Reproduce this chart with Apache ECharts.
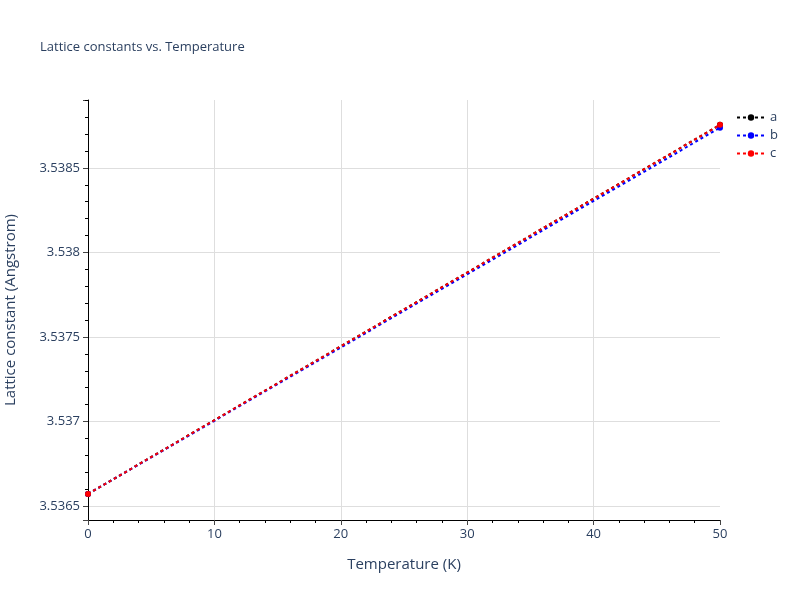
<!DOCTYPE html>
<html>
<head>
<meta charset="utf-8">
<script src="https://cdn.jsdelivr.net/npm/echarts@6/dist/echarts.min.js"></script>
<style>
  html, body { margin: 0; padding: 0; background: #fff; }
  #main { width: 800px; height: 600px; }
</style>
</head>
<body>
<div id="main"></div>
<script>
var temps = [0, 50];
var latA = [3.536571, 3.538755];
var latB = [3.536571, 3.538738];
var latC = [3.536571, 3.538755];
var seriesNames = ['a', 'b', 'c'];
var seriesColors = ['#000000', '#0000ff', '#ff0000'];

var font = '"Open Sans", verdana, arial, sans-serif';
var txt = '#2a3f5f';

function pairs(ys) {
  return temps.map(function (t, i) { return [t, ys[i]]; });
}

var chart = echarts.init(document.getElementById('main'));
chart.setOption({
  animation: false,
  backgroundColor: '#fff',
  title: {
    text: 'Lattice constants vs. Temperature',
    left: 35,
    top: 36,
    textStyle: { fontFamily: font, fontSize: 13, fontWeight: 'normal', color: txt }
  },
  legend: {
    orient: 'vertical',
    left: 731,
    top: 106,
    itemWidth: 28,
    itemHeight: 8,
    itemGap: 5,
    textStyle: { fontFamily: font, fontSize: 13, color: txt },
    data: seriesNames
  },
  grid: { left: 88, right: 80, top: 100, bottom: 80, outerBoundsMode: 'none' },
  xAxis: {
    type: 'value',
    min: 0,
    max: 50,
    interval: 10,
    name: 'Temperature (K)',
    nameLocation: 'middle',
    nameGap: 37,
    nameTextStyle: { fontFamily: font, fontSize: 15, color: txt },
    axisLine: { lineStyle: { color: '#000', width: 1 } },
    axisTick: { show: true, length: 5, lineStyle: { color: '#444' } },
    minorTick: { show: true, splitNumber: 5, length: 3, lineStyle: { color: '#000' } },
    axisLabel: { fontFamily: font, fontSize: 13, color: txt, margin: 8 },
    splitLine: { show: true, showMinLine: false, showMaxLine: false, lineStyle: { color: '#dedede' } }
  },
  yAxis: {
    type: 'value',
    min: 3.536417,
    max: 3.538902,
    splitNumber: 5,
    name: 'Lattice constant (Angstrom)',
    nameLocation: 'middle',
    nameGap: 70,
    nameTextStyle: { fontFamily: font, fontSize: 15, color: txt },
    axisLine: { show: true, lineStyle: { color: '#000', width: 1 } },
    axisTick: { show: true, length: 5, lineStyle: { color: '#444' } },
    minorTick: { show: true, splitNumber: 5, length: 3, lineStyle: { color: '#000' } },
    axisLabel: {
      fontFamily: font, fontSize: 13, color: txt, margin: 8,
      showMinLabel: false, showMaxLabel: false,
      formatter: function (v) { return String(+v.toFixed(4)); }
    },
    splitLine: { show: true, showMinLine: false, showMaxLine: false, lineStyle: { color: '#dedede' } }
  },
  series: [latA, latB, latC].map(function (ys, i) {
    return {
      name: seriesNames[i],
      type: 'line',
      data: pairs(ys),
      symbol: 'circle',
      symbolSize: 6,
      showSymbol: true,
      itemStyle: { color: seriesColors[i] },
      lineStyle: { color: seriesColors[i], width: 2, type: [3, 3] },
      z: 2 + i
    };
  })
});
</script>
</body>
</html>
